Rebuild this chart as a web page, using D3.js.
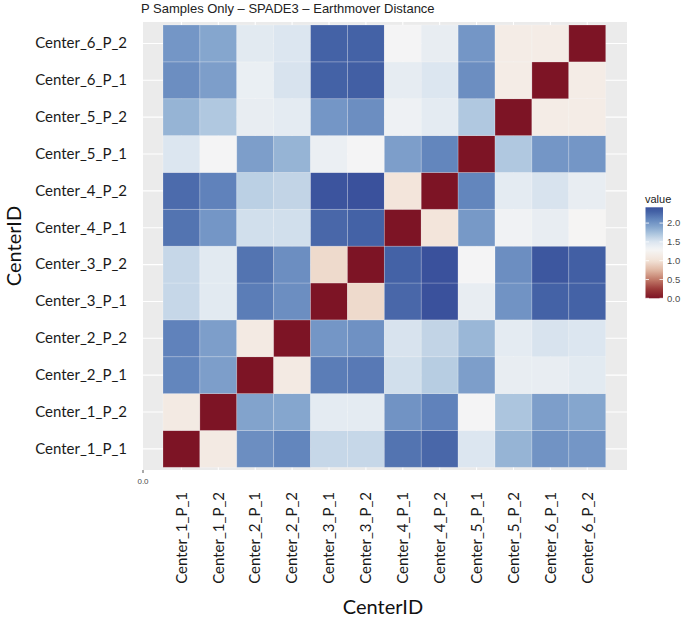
<!DOCTYPE html>
<html><head><meta charset="utf-8">
<script src="https://cdn.jsdelivr.net/npm/d3@7"></script>
<style>body{margin:0;background:#fff}svg{display:block}</style>
</head><body>
<svg id="chart" width="682" height="617"></svg>
<script>
const centers = ["Center_1_P_1","Center_1_P_2","Center_2_P_1","Center_2_P_2","Center_3_P_1","Center_3_P_2","Center_4_P_1","Center_4_P_2","Center_5_P_1","Center_5_P_2","Center_6_P_1","Center_6_P_2"];
// rows in order of centers (bottom to top), columns in order of centers (left to right)
const row_1_P_1 = [0.00,1.12,2.05,2.10,1.60,1.60,2.20,2.27,1.50,1.82,2.02,2.00];
const row_1_P_2 = [1.12,0.00,1.92,1.90,1.43,1.43,2.02,2.12,1.30,1.72,1.95,1.90];
const row_2_P_1 = [2.10,1.95,0.00,1.12,2.15,2.17,1.55,1.67,1.95,1.40,1.40,1.45];
const row_2_P_2 = [2.12,1.95,1.12,0.00,2.00,2.03,1.52,1.62,1.80,1.43,1.52,1.50];
const row_3_P_1 = [1.60,1.45,2.15,2.05,0.00,0.95,2.27,2.42,1.40,2.02,2.30,2.30];
const row_3_P_2 = [1.60,1.45,2.20,2.05,0.95,0.00,2.30,2.42,1.30,2.05,2.38,2.32];
const row_4_P_1 = [2.20,2.00,1.55,1.55,2.27,2.30,0.00,1.05,1.98,1.33,1.40,1.27];
const row_4_P_2 = [2.25,2.12,1.65,1.62,2.40,2.42,1.05,0.00,2.10,1.43,1.52,1.40];
const row_5_P_1 = [1.50,1.30,1.95,1.82,1.37,1.30,1.95,2.10,0.00,1.70,2.00,2.00];
const row_5_P_2 = [1.82,1.70,1.40,1.43,2.00,2.05,1.35,1.43,1.70,0.00,1.15,1.15];
const row_6_P_1 = [2.05,1.95,1.38,1.52,2.30,2.32,1.42,1.50,2.05,1.15,0.00,1.15];
const row_6_P_2 = [2.00,1.90,1.45,1.50,2.30,2.30,1.30,1.40,2.00,1.15,1.15,0.00];
const rows = [row_1_P_1,row_1_P_2,row_2_P_1,row_2_P_2,row_3_P_1,row_3_P_2,row_4_P_1,row_4_P_2,row_5_P_1,row_5_P_2,row_6_P_1,row_6_P_2];
const legendTicks = [0.0, 0.5, 1.0, 1.5, 2.0];
const titleText = "P Samples Only \u2013 SPADE3 \u2013 Earthmover Distance";

const cells = [];
rows.forEach((r,i)=>r.forEach((v,j)=>cells.push({row:centers[i], col:centers[j], value:v})));

const svg = d3.select("#chart");
const x = d3.scaleBand().domain(centers).range([163, 605.7]).padding(0);
const y = d3.scaleBand().domain(centers.slice().reverse()).range([25, 467.3]).padding(0);
const vmax = 2.42;
const color = d3.scaleLinear()
  .domain([0, 0.25, 0.5, 0.75, 1.0, 1.29, 1.5, 1.7, 1.9, 2.1, 2.3, vmax])
  .range(["#7d1425","#9c3b3a","#c27b6a","#e0b8a4","#f2e2d6","#f5f5f5","#dce6f0","#b0c8e0","#85a6ce","#6386bd","#4462a6","#3a519c"])
  .clamp(true);

// panel
svg.append("rect").attr("x",142).attr("y",22).attr("width",485).attr("height",448).attr("fill","#ebebeb");
const grid = svg.append("g").attr("stroke","#fff").attr("stroke-width",1.1);
centers.forEach(c=>{
  const cx = x(c)+x.bandwidth()/2;
  grid.append("line").attr("x1",cx).attr("x2",cx).attr("y1",22).attr("y2",470);
  const cy = y(c)+y.bandwidth()/2;
  grid.append("line").attr("x1",142).attr("x2",627).attr("y1",cy).attr("y2",cy);
});
grid.append("line").attr("x1",142.5).attr("x2",142.5).attr("y1",22).attr("y2",470);

// tiles
svg.append("g").selectAll("rect").data(cells).join("rect")
  .attr("x",d=>x(d.col)).attr("y",d=>y(d.row))
  .attr("width",x.bandwidth()).attr("height",y.bandwidth())
  .attr("fill",d=>color(d.value))
  .attr("stroke","rgba(255,255,255,0.25)").attr("stroke-width",0.8);

// title
svg.append("text").attr("x",141).attr("y",13).attr("font-family","Liberation Sans, Arial, sans-serif")
  .attr("font-size",13).attr("fill","#222").text(titleText);

// y axis labels
const font = "Lato, 'Open Sans', sans-serif";
const yAxis = d3.axisLeft(y).tickSize(0).tickPadding(0);
const gy = svg.append("g").attr("transform","translate(127,0)").call(yAxis);
gy.select(".domain").remove();
gy.selectAll("text").attr("font-family",font).attr("font-size",15).attr("fill","#1a1a1a");

// x axis labels
const xAxis = d3.axisBottom(x).tickSize(0).tickPadding(0);
const gx = svg.append("g").attr("transform","translate(0,492)").call(xAxis);
gx.select(".domain").remove();
gx.selectAll("text").attr("font-family",font).attr("font-size",15).attr("fill","#1a1a1a")
  .attr("text-anchor","end").attr("dy","0.35em").attr("transform","rotate(-90)").attr("x",0).attr("y",0);

// axis titles
svg.append("text").attr("x",383).attr("y",614).attr("text-anchor","middle")
  .attr("font-family",font).attr("font-size",20).attr("fill","#111").text("CenterID");
svg.append("text").attr("transform","translate(21,246) rotate(-90)").attr("text-anchor","middle")
  .attr("font-family",font).attr("font-size",20).attr("fill","#111").text("CenterID");

// stray 0.0 tick
svg.append("line").attr("x1",143).attr("x2",143).attr("y1",470).attr("y2",473).attr("stroke","#555");
svg.append("text").attr("x",143).attr("y",484).attr("text-anchor","middle")
  .attr("font-family","Liberation Sans, Arial, sans-serif").attr("font-size",8).attr("fill","#4d4d4d").text("0.0");

// legend
const lg = svg.append("g");
const ly = d3.scaleLinear().domain([0, vmax]).range([298.3, 207.3]);
const defs = svg.append("defs");
const grad = defs.append("linearGradient").attr("id","lgrad").attr("x1",0).attr("y1",1).attr("x2",0).attr("y2",0);
d3.range(0, 41).forEach(i=>{
  const v = vmax*i/40;
  grad.append("stop").attr("offset",(i/40)).attr("stop-color",color(v));
});
lg.append("text").attr("x",645).attr("y",203).attr("font-family","Liberation Sans, Arial, sans-serif")
  .attr("font-size",11).attr("fill","#222").text("value");
lg.append("rect").attr("x",645.5).attr("y",ly(vmax)).attr("width",17.5).attr("height",ly(0)-ly(vmax)).attr("fill","url(#lgrad)");
legendTicks.forEach(t=>{
  lg.append("line").attr("x1",645.5).attr("x2",649).attr("y1",ly(t)).attr("y2",ly(t)).attr("stroke","#fff").attr("stroke-width",0.8);
  lg.append("line").attr("x1",659.5).attr("x2",663).attr("y1",ly(t)).attr("y2",ly(t)).attr("stroke","#fff").attr("stroke-width",0.8);
  lg.append("text").attr("x",667).attr("y",ly(t)).attr("dy","0.35em").attr("font-family","Liberation Sans, Arial, sans-serif")
    .attr("font-size",9.5).attr("fill","#4d4d4d").text(t.toFixed(1));
});
</script>
</body></html>
